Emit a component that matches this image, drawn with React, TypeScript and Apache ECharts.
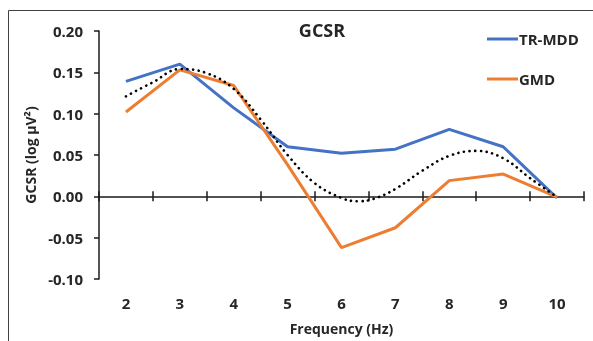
import React, { useEffect, useRef } from "react";
import * as echarts from "echarts";

const categories = ["2", "3", "4", "5", "6", "7", "8", "9", "10"];
const trMdd = [0.139, 0.16, 0.107, 0.06, 0.052, 0.057, 0.081, 0.06, -0.002];
const gmd = [0.102, 0.153, 0.134, 0.038, -0.062, -0.038, 0.019, 0.027, -0.001];
// polynomial trend line read at half-steps of frequency
const trendX = [2, 2.5, 3, 3.5, 4, 4.5, 5, 5.5, 6, 6.3, 6.6, 7, 7.5, 8, 8.5, 9, 9.5, 10];
const trendY = [0.121, 0.138, 0.154, 0.149, 0.13, 0.093, 0.05, 0.016, -0.002, -0.006, -0.003, 0.009, 0.031, 0.049, 0.055, 0.046, 0.022, -0.001];
const yTicks = { min: -0.1, max: 0.2, interval: 0.05 };

const FONT = "'Open Sans', 'Noto Sans', sans-serif";
const TEXT = "#262626";
const AXIS = "#1a1a1a";

export default function App() {
  const ref = useRef<HTMLDivElement>(null);
  useEffect(() => {
    if (!ref.current) return;
    const chart = echarts.init(ref.current, null, { renderer: "svg" });
    const trend = trendX.map((x, i) => [x, trendY[i]]);
    chart.setOption({
      animation: false,
      textStyle: { fontFamily: FONT },
      title: {
        text: "GCSR",
        left: 317,
        top: 16,
        textAlign: "center",
        textStyle: { fontFamily: FONT, fontWeight: "bold", fontSize: 18, color: TEXT },
      },
      legend: {
        orient: "vertical",
        left: 482,
        top: 26,
        itemWidth: 31,
        itemHeight: 3,
        itemGap: 24,
        icon: "rect",
        data: ["TR-MDD", "GMD"],
        textStyle: { fontFamily: FONT, fontWeight: "bold", fontSize: 15, color: TEXT, lineHeight: 16, padding: [0, 0, 0, -4] },
      },
      graphic: [
        {
          type: "line",
          shape: { x1: 8.5, y1: 10.5, x2: 593, y2: 10.5 },
          style: { stroke: "#404040", lineWidth: 1 },
          silent: true,
          z: -1,
        },
        {
          type: "line",
          shape: { x1: 8.5, y1: 10.5, x2: 8.5, y2: 341 },
          style: { stroke: "#404040", lineWidth: 1 },
          silent: true,
          z: -1,
        },
      ],
      grid: { left: 99, right: 9, top: 31, bottom: 62 },
      xAxis: [
        {
          type: "category",
          data: categories,
          position: "bottom",
          axisLine: { show: false, onZero: false },
          axisTick: { show: false },
          axisLabel: { margin: 16, fontFamily: FONT, fontWeight: "bold", fontSize: 15, color: TEXT },
          name: "Frequency (Hz)",
          nameLocation: "middle",
          nameGap: 42,
          nameTextStyle: { fontFamily: FONT, fontWeight: "bold", fontSize: 14, color: TEXT },
          splitLine: { show: false },
        },
        {
          type: "category",
          data: categories,
          axisLine: { show: true, onZero: true, onZeroAxisIndex: 0, lineStyle: { color: AXIS, width: 1.5 } },
          axisTick: { show: true, inside: true, length: 5, lineStyle: { color: AXIS, width: 1.5 } },
          axisLabel: { show: false },
          splitLine: { show: false },
        },
        {
          type: "category",
          data: categories,
          axisLine: { show: false, onZero: true, onZeroAxisIndex: 0 },
          axisTick: { show: true, inside: false, length: 5, lineStyle: { color: AXIS, width: 1.5 } },
          axisLabel: { show: false },
          splitLine: { show: false },
        },
        {
          type: "value",
          min: 1.5,
          max: 10.5,
          show: false,
        },
      ],
      yAxis: {
        type: "value",
        min: yTicks.min,
        max: yTicks.max,
        interval: yTicks.interval,
        axisLine: { show: true, lineStyle: { color: AXIS, width: 1.5 } },
        axisTick: { show: true, length: 5, lineStyle: { color: AXIS, width: 1.5 } },
        splitLine: { show: false },
        axisLabel: {
          margin: 16,
          fontFamily: FONT,
          fontWeight: "bold",
          fontSize: 15,
          color: TEXT,
          formatter: (v: number) => v.toFixed(2),
        },
        name: "GCSR (log µV²)",
        nameLocation: "middle",
        nameGap: 58,
        nameTextStyle: { fontFamily: FONT, fontWeight: "bold", fontSize: 14, color: TEXT },
      },
      series: [
        {
          name: "TR-MDD",
          type: "line",
          xAxisIndex: 0,
          data: trMdd,
          symbol: "none",
          lineStyle: { color: "#4472C4", width: 3 },
          itemStyle: { color: "#4472C4" },
          z: 2,
        },
        {
          name: "GMD",
          type: "line",
          xAxisIndex: 0,
          data: gmd,
          symbol: "none",
          lineStyle: { color: "#ED7D31", width: 3 },
          itemStyle: { color: "#ED7D31" },
          z: 3,
        },
        {
          name: "trend",
          type: "line",
          xAxisIndex: 3,
          data: trend,
          smooth: 0.4,
          symbol: "none",
          lineStyle: { color: "#000000", width: 2.6, type: [0.1, 5.6], cap: "round" },
          z: 4,
        },
      ],
    });
    return () => chart.dispose();
  }, []);
  return <div ref={ref} style={{ position: "fixed", left: 0, top: 0, width: 593, height: 341 }} />;
}
